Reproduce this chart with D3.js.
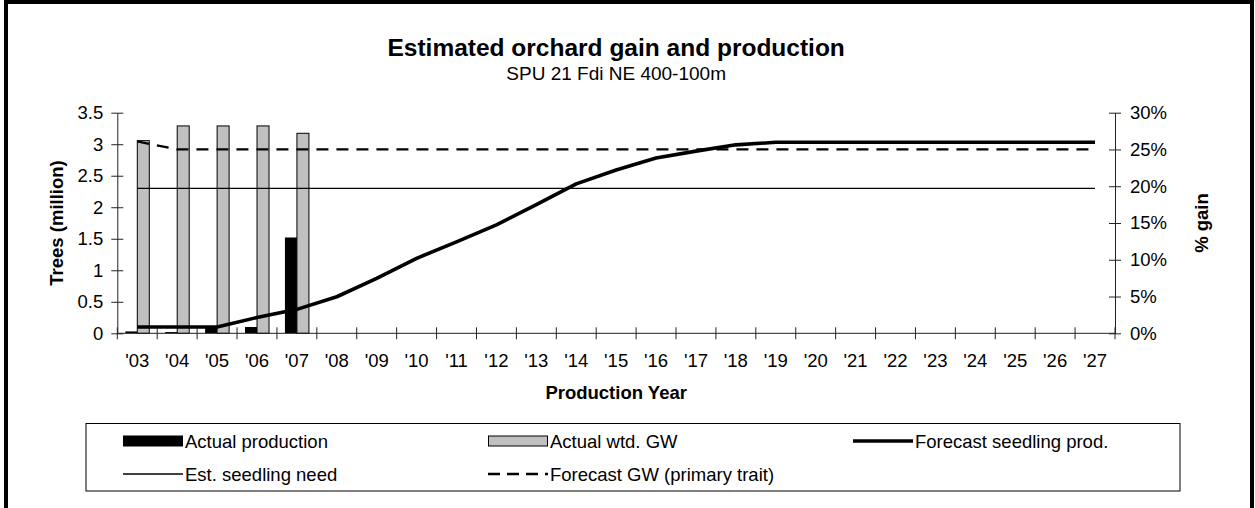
<!DOCTYPE html>
<html>
<head>
<meta charset="utf-8">
<script src="https://cdn.jsdelivr.net/npm/d3@7"></script>
<style>
  body { margin: 0; background: #fff; }
  text { font-family: "Liberation Sans", Arial, sans-serif; fill: #000; }
</style>
</head>
<body>
<div id="chart"></div>
<script>
// data
let years = ["'03","'04","'05","'06","'07","'08","'09","'10","'11","'12","'13","'14","'15",
    "'16","'17","'18","'19","'20","'21","'22","'23","'24","'25","'26","'27"]
let actualProduction = [0.03, 0.02, 0.11, 0.1, 1.52]            // million trees
let actualGW = [26.2, 28.2, 28.2, 28.2, 27.2]                     // % gain
let forecastProd = [0.1, 0.1, 0.1, 0.25, 0.38, 0.58, 0.87, 1.19, 1.45, 1.72, 2.04, 2.37, 2.59,
    2.78, 2.89, 2.99, 3.03, 3.03, 3.03, 3.03, 3.03, 3.03, 3.03, 3.03, 3.03]
let seedlingNeed = 2.3
let forecastGW = [26.1, 25, 25, 25, 25, 25, 25, 25, 25, 25, 25, 25, 25,
    25, 25, 25, 25, 25, 25, 25, 25, 25, 25, 25, 25]
let leftTicks = [0, 0.5, 1, 1.5, 2, 2.5, 3, 3.5]
let rightTicks = [0, 5, 10, 15, 20, 25, 30]

let width = 1255, height = 508
let fontSize = "18.5px"

let svg = d3.select("#chart")
    .append("svg")
    .attr("width", width)
    .attr("height", height)

// outer frame
svg.append("rect")
    .attr("x", 6).attr("y", 2)
    .attr("width", 1246).attr("height", 560)
    .attr("fill", "none")
    .attr("stroke", "#000")
    .attr("stroke-width", 4)

let plotLeft = 117.3, plotRight = 1115, plotTop = 112.7, plotBottom = 333.3

let x = d3.scaleBand().domain(years).range([plotLeft, plotRight])
let sub = d3.scaleBand().domain(["prod", "gw"]).range([8, 32])
let y = d3.scaleLinear().domain([0, 3.5]).range([plotBottom, plotTop])
let y2 = d3.scaleLinear().domain([0, 30]).range([plotBottom, plotTop])
let cx = d => x(d) + x.bandwidth() / 2

// title
svg.append("text")
    .attr("x", (plotLeft + plotRight) / 2).attr("y", 56)
    .attr("text-anchor", "middle")
    .style("font-size", "24.5px").style("font-weight", "bold")
    .text("Estimated orchard gain and production")
svg.append("text")
    .attr("x", (plotLeft + plotRight) / 2).attr("y", 80)
    .attr("text-anchor", "middle")
    .style("font-size", "19px")
    .text("SPU 21 Fdi NE 400-100m")

// bars
let bars = svg.append("g")
bars.selectAll(".prod")
    .data(actualProduction)
    .enter()
    .append("rect")
    .attr("x", (d, i) => x(years[i]) + sub("prod"))
    .attr("y", d => y(d))
    .attr("width", sub.bandwidth())
    .attr("height", d => y(0) - y(d))
    .attr("fill", "#000")
bars.selectAll(".gw")
    .data(actualGW)
    .enter()
    .append("rect")
    .attr("x", (d, i) => x(years[i]) + sub("gw"))
    .attr("y", d => y2(d))
    .attr("width", sub.bandwidth())
    .attr("height", d => y2(0) - y2(d))
    .attr("fill", "#c0c0c0")
    .attr("stroke", "#000")
    .attr("stroke-width", 1)

// lines
svg.append("line")
    .attr("x1", cx(years[0])).attr("x2", cx(years[years.length - 1]))
    .attr("y1", y(seedlingNeed)).attr("y2", y(seedlingNeed))
    .attr("stroke", "#000").attr("stroke-width", 1.4)

let gwLine = d3.line()
    .x((d, i) => cx(years[i]))
    .y(d => y2(d))
svg.append("path")
    .datum(forecastGW)
    .attr("d", gwLine)
    .attr("fill", "none")
    .attr("stroke", "#000")
    .attr("stroke-width", 2.3)
    .attr("stroke-dasharray", "12,8")

let prodLine = d3.line()
    .x((d, i) => cx(years[i]))
    .y(d => y(d))
svg.append("path")
    .datum(forecastProd)
    .attr("d", prodLine)
    .attr("fill", "none")
    .attr("stroke", "#000")
    .attr("stroke-width", 3.6)
    .attr("stroke-linejoin", "round")

// axes with cross ticks
function styleAxis(g) {
    g.selectAll("path").attr("stroke", "#222")
    g.selectAll("line").attr("stroke", "#222")
    g.selectAll("text").style("font-size", fontSize).style("font-family", "Liberation Sans, Arial, sans-serif")
}

let xTickVals = d3.range(years.length + 1).map(i => plotLeft + i * x.bandwidth())
let xAxis = svg.append("g")
xAxis.append("line")
    .attr("x1", plotLeft).attr("x2", plotRight)
    .attr("y1", plotBottom).attr("y2", plotBottom)
    .attr("stroke", "#222")
xAxis.selectAll(".tick")
    .data(xTickVals)
    .enter()
    .append("line")
    .attr("x1", d => d).attr("x2", d => d)
    .attr("y1", plotBottom - 6).attr("y2", plotBottom + 6)
    .attr("stroke", "#222")
xAxis.selectAll(".lbl")
    .data(years)
    .enter()
    .append("text")
    .attr("x", d => cx(d))
    .attr("y", 367)
    .attr("text-anchor", "middle")
    .style("font-size", fontSize)
    .text(d => d)

svg.append("g")
    .attr("transform", `translate(${plotLeft},0)`)
    .call(d3.axisLeft(y).tickValues(leftTicks).tickSizeInner(6).tickSizeOuter(0).tickPadding(8)
        .tickFormat(d => d))
    .call(styleAxis)
    .call(g => g.selectAll(".tick line").attr("x2", 6).attr("x1", -6))

svg.append("g")
    .attr("transform", `translate(${plotRight},0)`)
    .call(d3.axisRight(y2).tickValues(rightTicks).tickSizeInner(6).tickSizeOuter(0).tickPadding(9)
        .tickFormat(d => d + "%"))
    .call(styleAxis)
    .call(g => g.selectAll(".tick line").attr("x1", -6).attr("x2", 6))

// axis titles
svg.append("text")
    .attr("transform", `translate(62.5,${(plotTop + plotBottom) / 2}) rotate(-90)`)
    .attr("text-anchor", "middle")
    .style("font-size", fontSize).style("font-weight", "bold")
    .text("Trees (million)")
svg.append("text")
    .attr("transform", `translate(1207.5,${(plotTop + plotBottom) / 2}) rotate(-90)`)
    .attr("text-anchor", "middle")
    .style("font-size", fontSize).style("font-weight", "bold")
    .text("% gain")
svg.append("text")
    .attr("x", (plotLeft + plotRight) / 2).attr("y", 399)
    .attr("text-anchor", "middle")
    .style("font-size", fontSize).style("font-weight", "bold")
    .text("Production Year")

// legend
let legend = svg.append("g")
legend.append("rect")
    .attr("x", 86).attr("y", 423.5)
    .attr("width", 1094).attr("height", 67.5)
    .attr("fill", "none").attr("stroke", "#000").attr("stroke-width", 1)

let legendItems = [
    { name: "Actual production", type: "bar", fill: "#000", col: 0, row: 0 },
    { name: "Actual wtd. GW", type: "bar", fill: "#c0c0c0", col: 1, row: 0 },
    { name: "Forecast seedling prod.", type: "line", w: 3.6, col: 2, row: 0 },
    { name: "Est. seedling need", type: "line", w: 1.4, col: 0, row: 1 },
    { name: "Forecast GW (primary trait)", type: "line", w: 2.3, dash: "12,7", col: 1, row: 1 }
]
let colX = [123, 488, 853]
let rowY = [441, 474]

let item = legend.selectAll(".item")
    .data(legendItems)
    .enter()
    .append("g")
    .attr("transform", d => `translate(${colX[d.col]},${rowY[d.row]})`)

item.filter(d => d.type == "bar")
    .append("rect")
    .attr("x", 0.5).attr("y", -5)
    .attr("width", 59).attr("height", 10)
    .attr("fill", d => d.fill)
    .attr("stroke", "#000")
item.filter(d => d.type == "line")
    .append("line")
    .attr("x1", 0).attr("x2", 60)
    .attr("y1", 0).attr("y2", 0)
    .attr("stroke", "#000")
    .attr("stroke-width", d => d.w)
    .attr("stroke-dasharray", d => d.dash || null)
item.append("text")
    .attr("x", 62).attr("y", 6.5)
    .style("font-size", fontSize)
    .text(d => d.name)
</script>
</body>
</html>
